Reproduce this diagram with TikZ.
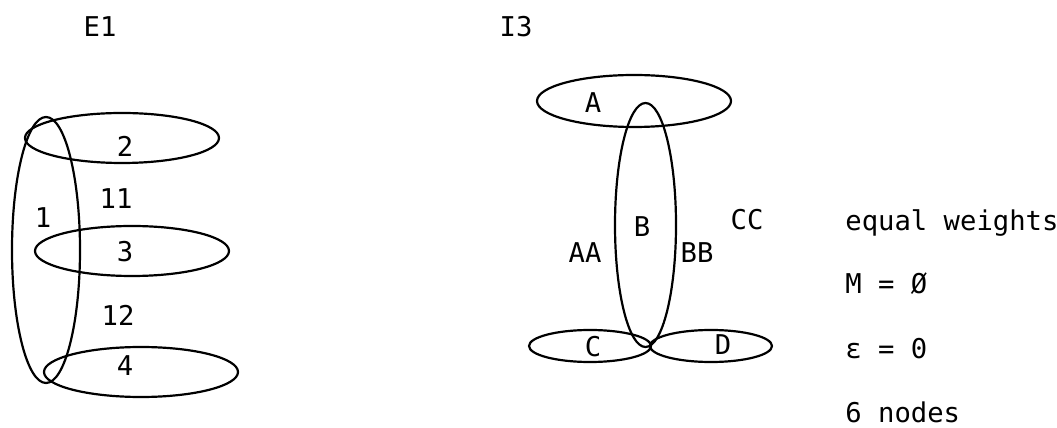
\documentclass[tikz,border=0pt]{standalone}
\usepackage{fontspec}
\setmonofont{DejaVu Sans Mono}
\usetikzlibrary{positioning}

\begin{document}
\begin{tikzpicture}[
  x=0.02cm, y=-0.02cm,
  font=\ttfamily\fontsize{15.5}{18}\selectfont,
  hedge/.style={draw=black, line width=1.25pt},
  lbl/.style={inner sep=0pt},
  txt/.style={inner sep=0pt, anchor=base west}
]
\useasboundingbox (0,0) rectangle (1057,428);
% E1
\node[lbl] (tE) at (100,27) {E1};
\draw[hedge] (46,250) ellipse (34 and 133);
\draw[hedge] (122,138) ellipse (97 and 25);
\draw[hedge] (132,251) ellipse (97 and 25);
\draw[hedge] (141,372) ellipse (97 and 25);
\node[lbl] (n1) at (43,218) {1};
\node[lbl] (n2) at (125,146) {2};
\node[lbl] (n11) at (116,199) {11};
\node[lbl] (n3) at (125,252) {3};
\node[lbl] (n12) at (118,315) {12};
\node[lbl] (n4) at (125,366) {4};
% I3
\node[lbl] (tI) at (516,27) {I3};
\draw[hedge] (634,101) ellipse (97 and 26);
\draw[hedge] (645.5,225) ellipse (30.5 and 122);
\draw[hedge] (590,346) ellipse (61 and 16);
\draw[hedge] (711,346) ellipse (61 and 16);
\node[lbl] (nA) at (593,103) {A};
\node[lbl] (nB) at (642,227) {B};
\node[lbl] (nAA) at (585,253) {AA};
\node[lbl] (nBB) at (697,253) {BB};
\node[lbl] (nCC) at (747,220) {CC};
\node[lbl] (nC) at (593,347) {C};
\node[lbl] (nD) at (723,345) {D};
% notes
\node[txt] (eqw) at (845,231) {equal weights};
\node[txt] (mset) at (845,294) {M = Ø};
\node[txt] (eps) at (845,358) {ε = 0};
\node[txt] (nnodes) at (845,422) {6 nodes};
\end{tikzpicture}
\end{document}
